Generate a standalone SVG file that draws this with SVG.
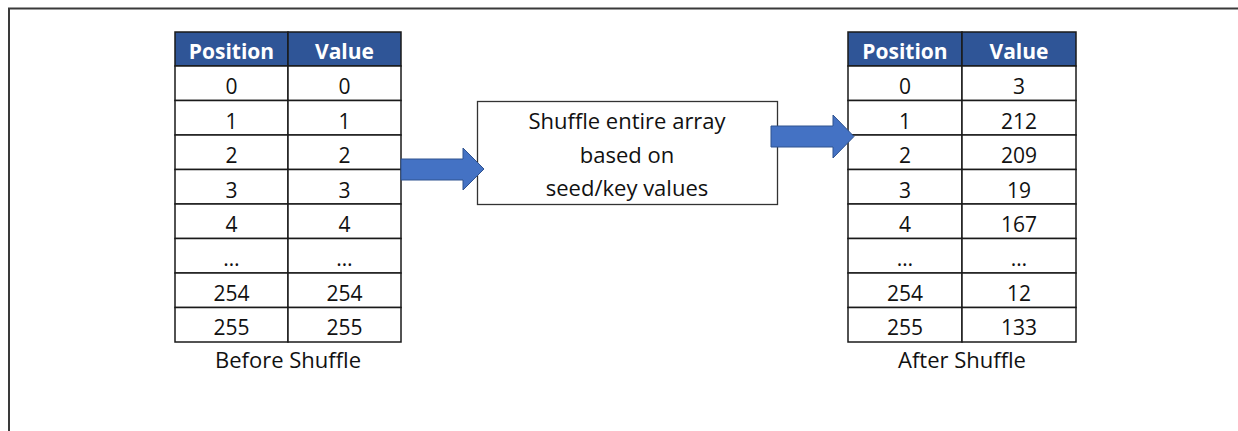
<svg xmlns="http://www.w3.org/2000/svg" width="1238" height="431" viewBox="0 0 1238 431">
<style>
.frame{fill:none;stroke:#3a3a3a;stroke-width:2}
.hdr{fill:#2F5597;stroke:#1a1a1a;stroke-width:1.5}
.cell{fill:#fff;stroke:#1a1a1a;stroke-width:1.5}
.ht{font-family:"Open Sans","Liberation Sans",sans-serif;font-size:21px;font-weight:bold;fill:#fff;text-anchor:middle}
.t{font-family:"Open Sans","Liberation Sans",sans-serif;font-size:21px;fill:#111;text-anchor:middle}
.bt{font-family:"Open Sans","Liberation Sans",sans-serif;font-size:22px;fill:#111;text-anchor:middle}
.box{fill:#fff;stroke:#333;stroke-width:1.3}
.arr{fill:#4472C4;stroke:#2F528F;stroke-width:1}
</style>
<rect width="1238" height="431" fill="#fff"/>
<path class="frame" d="M9,440 V8.5 H1238"/>
<g id="before-table">
<rect class="hdr" x="175" y="32" width="113" height="34"/>
<rect class="hdr" x="288" y="32" width="113" height="34"/>
<text class="ht" x="231.5" y="59">Position</text>
<text class="ht" x="344.5" y="59">Value</text>
<g>
<rect class="cell" x="175" y="66" width="113" height="34.5"/><rect class="cell" x="288" y="66" width="113" height="34.5"/>
<rect class="cell" x="175" y="100.5" width="113" height="34.5"/><rect class="cell" x="288" y="100.5" width="113" height="34.5"/>
<rect class="cell" x="175" y="135" width="113" height="34.5"/><rect class="cell" x="288" y="135" width="113" height="34.5"/>
<rect class="cell" x="175" y="169.5" width="113" height="34.5"/><rect class="cell" x="288" y="169.5" width="113" height="34.5"/>
<rect class="cell" x="175" y="204" width="113" height="34.5"/><rect class="cell" x="288" y="204" width="113" height="34.5"/>
<rect class="cell" x="175" y="238.5" width="113" height="34.5"/><rect class="cell" x="288" y="238.5" width="113" height="34.5"/>
<rect class="cell" x="175" y="273" width="113" height="34.5"/><rect class="cell" x="288" y="273" width="113" height="34.5"/>
<rect class="cell" x="175" y="307.5" width="113" height="34.5"/><rect class="cell" x="288" y="307.5" width="113" height="34.5"/>
</g>
<text class="t" x="231.5" y="94">0</text><text class="t" x="344.5" y="94">0</text>
<text class="t" x="231.5" y="128.5">1</text><text class="t" x="344.5" y="128.5">1</text>
<text class="t" x="231.5" y="163">2</text><text class="t" x="344.5" y="163">2</text>
<text class="t" x="231.5" y="197.5">3</text><text class="t" x="344.5" y="197.5">3</text>
<text class="t" x="231.5" y="232">4</text><text class="t" x="344.5" y="232">4</text>
<text class="t" x="231.5" y="266">…</text><text class="t" x="344.5" y="266">…</text>
<text class="t" x="231.5" y="300.5">254</text><text class="t" x="344.5" y="300.5">254</text>
<text class="t" x="231.5" y="335">255</text><text class="t" x="344.5" y="335">255</text>
<text class="bt" x="288" y="368">Before Shuffle</text>
</g>
<g id="shuffle-box">
<rect class="box" x="477.5" y="101.5" width="300" height="103"/>
<text class="bt" x="627" y="129">Shuffle entire array</text>
<text class="bt" x="627" y="163">based on</text>
<text class="bt" x="627" y="196">seed/key values</text>
</g>
<g id="after-table">
<rect class="hdr" x="848" y="32" width="114" height="34"/>
<rect class="hdr" x="962" y="32" width="114" height="34"/>
<text class="ht" x="905" y="59">Position</text>
<text class="ht" x="1019" y="59">Value</text>
<g>
<rect class="cell" x="848" y="66" width="114" height="34.5"/><rect class="cell" x="962" y="66" width="114" height="34.5"/>
<rect class="cell" x="848" y="100.5" width="114" height="34.5"/><rect class="cell" x="962" y="100.5" width="114" height="34.5"/>
<rect class="cell" x="848" y="135" width="114" height="34.5"/><rect class="cell" x="962" y="135" width="114" height="34.5"/>
<rect class="cell" x="848" y="169.5" width="114" height="34.5"/><rect class="cell" x="962" y="169.5" width="114" height="34.5"/>
<rect class="cell" x="848" y="204" width="114" height="34.5"/><rect class="cell" x="962" y="204" width="114" height="34.5"/>
<rect class="cell" x="848" y="238.5" width="114" height="34.5"/><rect class="cell" x="962" y="238.5" width="114" height="34.5"/>
<rect class="cell" x="848" y="273" width="114" height="34.5"/><rect class="cell" x="962" y="273" width="114" height="34.5"/>
<rect class="cell" x="848" y="307.5" width="114" height="34.5"/><rect class="cell" x="962" y="307.5" width="114" height="34.5"/>
</g>
<text class="t" x="905" y="94">0</text><text class="t" x="1019" y="94">3</text>
<text class="t" x="905" y="128.5">1</text><text class="t" x="1019" y="128.5">212</text>
<text class="t" x="905" y="163">2</text><text class="t" x="1019" y="163">209</text>
<text class="t" x="905" y="197.5">3</text><text class="t" x="1019" y="197.5">19</text>
<text class="t" x="905" y="232">4</text><text class="t" x="1019" y="232">167</text>
<text class="t" x="905" y="266">…</text><text class="t" x="1019" y="266">…</text>
<text class="t" x="905" y="300.5">254</text><text class="t" x="1019" y="300.5">12</text>
<text class="t" x="905" y="335">255</text><text class="t" x="1019" y="335">133</text>
<text class="bt" x="962" y="368">After Shuffle</text>
</g>
<g id="connectors">
<path class="arr" d="M401,159 H463 V148 L484,169 L463,190 V180 H401 Z"/>
<path class="arr" d="M771,126 H833 V115 L854,136.5 L833,158 V147 H771 Z"/>
</g>
</svg>
